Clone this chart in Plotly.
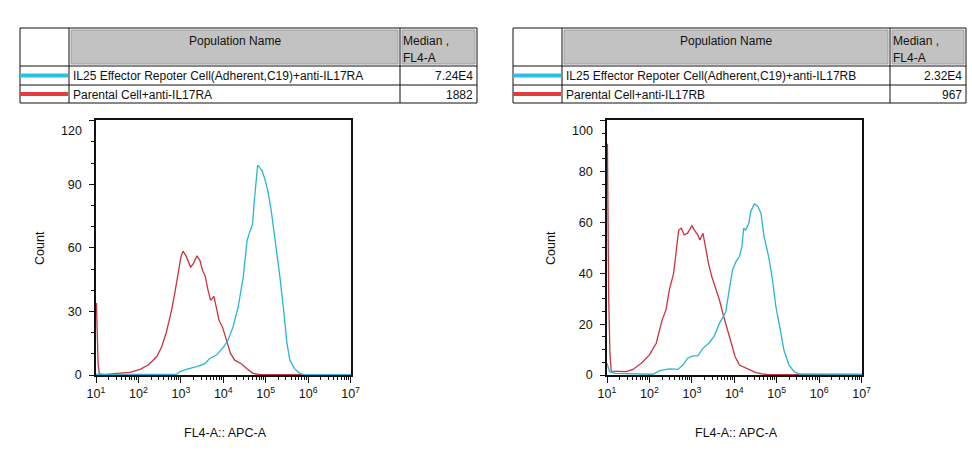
##########==========##########==========##########==========##########==========
## INITIALIZE

import plotly.graph_objects as go

## figure-wide settings
params = dict(
    width = 972, height = 460,
    font = 'Liberation Sans, Arial, sans-serif',
    colors = dict(
        ink = '#111111', cyan = '#29b6d3', red = '#c9343f',
        cyan_key = '#2cc0e2', red_key = '#e23c3c',
        head = '#c2c2c2', head_edge = '#9c9c9c'),
    )

## table contents
population_names_ra = [
    'IL25 Effector Repoter Cell(Adherent,C19)+anti-IL17RA',
    'Parental Cell+anti-IL17RA']
medians_ra = ['7.24E4', '1882']
population_names_rb = [
    'IL25 Effector Repoter Cell(Adherent,C19)+anti-IL17RB',
    'Parental Cell+anti-IL17RB']
medians_rb = ['2.32E4', '967']

## x tick labels (decades of FL4-A)
decade_exponents = [1, 2, 3, 4, 5, 6, 7]
decade_labels = ['10<sup>%d</sup>' % i for i in decade_exponents]

## histogram data, FL4-A given as log10 of intensity
ra_cell_log = [1.0, 2.9, 2.98, 3.13, 3.37, 3.56, 3.68, 3.84, 4.0, 4.11, 4.23, 4.35, 4.47,
               4.56, 4.62, 4.69, 4.73, 4.78, 4.81, 4.86, 4.92, 4.98, 5.05, 5.13, 5.24,
               5.33, 5.42, 5.5, 5.57, 5.68, 5.8, 5.9, 7.0]
ra_cell_count = [0.3, 0.3, 1.6, 2.7, 3.9, 5.2, 7.8, 9.4, 13, 16.4, 22.7, 32, 46.2,
                 63.4, 67.3, 71.2, 82, 94.7, 99, 97.8, 96.2, 92.3, 86.9, 77.5, 61.8,
                 47, 31, 15, 7, 3, 0.8, 0.2, 0.2]
ra_parental_log = [1.01, 1.03, 1.05, 1.08, 1.2, 1.49, 1.8, 2.04, 2.23, 2.43, 2.55, 2.66,
                   2.78, 2.86, 2.94, 3.0, 3.05, 3.12, 3.23, 3.29, 3.38, 3.45, 3.51, 3.57,
                   3.64, 3.7, 3.78, 3.84, 3.9, 3.98, 4.07, 4.17, 4.27, 4.43, 4.55, 4.7,
                   4.86, 7.0]
ra_parental_count = [34, 22, 5, 0.5, 0.2, 0.8, 1.2, 2.7, 4.7, 8.6, 13.3, 20.3,
                     30.5, 39, 47.7, 55.5, 58.4, 56.3, 50.9, 52.4, 56.2, 54, 49.3, 47,
                     40, 35.2, 37.1, 32, 25.8, 22.7, 16.4, 10.2, 7, 5.2, 3.1, 0.8,
                     0.2, 0.2]

rb_cell_log = [1.0, 1.06, 1.2, 2.08, 2.24, 2.47, 2.67, 2.79, 2.9, 3.02, 3.14, 3.26, 3.41,
               3.53, 3.65, 3.73, 3.8, 3.88, 3.96, 4.04, 4.12, 4.18, 4.22, 4.27, 4.34,
               4.39, 4.47, 4.55, 4.63, 4.7, 4.81, 4.9, 4.98, 5.07, 5.17, 5.29, 5.41,
               5.53, 7.0]
rb_cell_count = [4.6, 1.3, 0.6, 0.3, 1.7, 2.4, 2.2, 3.9, 6.6, 7.5, 7.5, 10.5, 12.7,
                 15.4, 20.3, 23, 24.9, 33.5, 41.3, 44.6, 46.6, 50.5, 57.7, 57, 59.7,
                 64.3, 67.3, 66.5, 63.6, 54.5, 46.6, 37.4, 26.9, 19, 9.8, 3.9, 1.3,
                 0.4, 0.3]
rb_parental_log = [1.01, 1.02, 1.04, 1.07, 1.1, 1.45, 1.61, 1.81, 2.0, 2.16, 2.3, 2.39,
                   2.47, 2.57, 2.63, 2.69, 2.75, 2.82, 2.9, 3.0, 3.06, 3.14, 3.19, 3.26,
                   3.32, 3.39, 3.47, 3.57, 3.65, 3.73, 3.82, 3.92, 4.02, 4.12, 4.23,
                   4.35, 4.51, 4.66, 4.8, 7.0]
rb_parental_count = [91, 58, 30, 8, 1.5, 1.3, 2.2, 4.6, 7.9, 12.5, 21.7, 25.6,
                     33.5, 40, 49.2, 57, 57.7, 55.1, 55.8, 58.7, 57, 55.1, 53.1, 55.8,
                     50.5, 44, 38.7, 33.5, 29.5, 24.3, 19, 12.5, 7.2, 3.9, 3,
                     2.2, 0.9, 0.4, 0.1, 0.1]


##########==========##########==========##########==========##########==========
## COMPONENT FUNCTIONS

def px_x(p):
    """ pixel column -> paper x """
    return p / params['width']


def px_y(p):
    """ pixel row -> paper y """
    return 1 - p / params['height']


def make_axes(fig, n, x0, y_max, y_step, y_minor):
    """ one square histogram frame, x0 = left pixel of the frame """
    suffix = '' if n == 1 else str(n)
    ink = params['colors']['ink']
    minor_x = [k * 10 ** e for e in decade_exponents[:-1] for k in range(2, 10)]
    y_vals = list(range(0, y_max + 1, y_step))
    fig.update_layout({
        'xaxis' + suffix: dict(
            domain = [px_x(x0), px_x(x0 + 255)], anchor = 'y' + suffix,
            type = 'log', range = [1, 7.01], automargin = False,
            tickmode = 'array', tickvals = [10 ** e for e in decade_exponents],
            ticktext = decade_labels,
            ticks = 'outside', ticklen = 6, tickwidth = 1, tickcolor = ink,
            minor = dict(tickvals = minor_x, ticks = 'outside', ticklen = 3,
                         tickcolor = ink, showgrid = False),
            showline = True, mirror = True, linecolor = ink, linewidth = 1.5,
            showgrid = False, zeroline = False,
            tickfont = dict(size = 12.5, color = ink)),
        'yaxis' + suffix: dict(
            domain = [px_y(375), px_y(120)], anchor = 'x' + suffix,
            range = [0, y_max + 0.3], automargin = False,
            tickmode = 'array', tickvals = y_vals,
            ticktext = [str(v) for v in y_vals[:-1]] + [''],
            ticks = 'outside', ticklen = 5, tickwidth = 1, tickcolor = ink,
            ticklabelstandoff = 5,
            minor = dict(dtick = y_minor, ticks = 'outside', ticklen = 3,
                         tickcolor = ink, showgrid = False),
            showline = True, mirror = True, linecolor = ink, linewidth = 1.5,
            showgrid = False, zeroline = False,
            tickfont = dict(size = 12.5, color = ink)),
        })
    ## top label sits a little lower in the original
    notes = [
        dict(x = px_x(x0 - 12), y = y_max, xref = 'paper', yref = 'y' + suffix,
             text = str(y_max), showarrow = False, xanchor = 'right', yanchor = 'middle',
             yshift = -10, font = dict(size = 12.5, color = ink)),
        dict(x = px_x(x0 - 56), y = px_y(248), xref = 'paper', yref = 'paper',
             text = 'Count', textangle = -90, showarrow = False,
             xanchor = 'center', yanchor = 'middle',
             font = dict(size = 12.5, color = ink)),
        dict(x = px_x(x0 + 129), y = px_y(433), xref = 'paper', yref = 'paper',
             text = 'FL4-A:: APC-A', showarrow = False,
             xanchor = 'center', yanchor = 'middle',
             font = dict(size = 12.5, color = ink)),
        ]
    return notes


def add_histograms(fig, n, cell_log, cell_count, parental_log, parental_count):
    """ parental drawn first, reporter cells on top """
    suffix = '' if n == 1 else str(n)
    for xs, ys, col in [(parental_log, parental_count, 'red'),
                        (cell_log, cell_count, 'cyan')]:
        fig.add_trace(go.Scatter(
            x = [10 ** v for v in xs], y = ys,
            xaxis = 'x' + suffix, yaxis = 'y' + suffix,
            mode = 'lines', line = dict(color = params['colors'][col], width = 1.3),
            hoverinfo = 'skip', showlegend = False))


def draw_table(x0, c1, c2, x1, names, medians):
    """ population table above each histogram """
    c = params['colors']
    top, r1, r2, bot = 28, 66, 85, 103
    shapes, notes = [], []
    def box(a, b, d, e, fill = 'rgba(0,0,0,0)', edge = c['ink'], w = 1):
        shapes.append(dict(type = 'rect', xref = 'paper', yref = 'paper',
                           x0 = px_x(a), x1 = px_x(b), y0 = px_y(e), y1 = px_y(d),
                           fillcolor = fill, line = dict(color = edge, width = w)))
    def hline(a, b, y, col, w):
        shapes.append(dict(type = 'line', xref = 'paper', yref = 'paper',
                           x0 = px_x(a), x1 = px_x(b), y0 = px_y(y), y1 = px_y(y),
                           line = dict(color = col, width = w)))
    def vline(x, a, b):
        shapes.append(dict(type = 'line', xref = 'paper', yref = 'paper',
                           x0 = px_x(x), x1 = px_x(x), y0 = px_y(a), y1 = px_y(b),
                           line = dict(color = c['ink'], width = 1)))
    def text(x, y, s, anchor):
        notes.append(dict(x = px_x(x), y = px_y(y), xref = 'paper', yref = 'paper',
                          text = s, showarrow = False, xanchor = anchor, yanchor = 'middle',
                          font = dict(size = 12, color = c['ink'])))

    ## grey header cells
    box(c1 + 2, c2 - 2, top + 2, r1 - 2, fill = c['head'], edge = c['head_edge'])
    box(c2 + 2, x1 - 2, top + 2, r1 - 2, fill = c['head'], edge = c['head_edge'])
    ## grid
    box(x0, x1, top, bot)
    hline(x0, x1, r1, c['ink'], 1)
    hline(x0, x1, r2, c['ink'], 1)
    vline(c1, top, bot)
    vline(c2, top, bot)
    ## colour keys
    hline(x0, c1 - 1, (r1 + r2) / 2, c['cyan_key'], 4)
    hline(x0, c1 - 1, (r2 + bot) / 2, c['red_key'], 4)
    ## text
    text((c1 + c2) / 2, 41, 'Population Name', 'center')
    text(c2 + 1, 41, 'Median ,', 'left')
    text(c2 + 1, 58, 'FL4-A', 'left')
    text(c1 + 2, 76, names[0], 'left')
    text(c1 + 2, 95, names[1], 'left')
    text(x1 - 2, 76, medians[0], 'right')
    text(x1 - 2, 95, medians[1], 'right')
    return shapes, notes


##########==========##########==========##########==========##########==========
## TOP-LEVEL FUNCTIONS

def draw_panels():
    fig = go.Figure()
    fig.update_layout(
        template = 'none',
        width = params['width'], height = params['height'],
        margin = dict(l = 0, r = 0, t = 0, b = 0, pad = 0),
        paper_bgcolor = 'white', plot_bgcolor = 'white',
        showlegend = False,
        font = dict(family = params['font'], size = 12, color = params['colors']['ink']),
        )

    add_histograms(fig, 1, ra_cell_log, ra_cell_count, ra_parental_log, ra_parental_count)
    add_histograms(fig, 2, rb_cell_log, rb_cell_count, rb_parental_log, rb_parental_count)

    notes = make_axes(fig, 1, 96, 120, 30, 10)
    notes += make_axes(fig, 2, 607, 100, 20, 5)

    shapes_a, notes_a = draw_table(20, 69, 400, 477, population_names_ra, medians_ra)
    shapes_b, notes_b = draw_table(513, 562, 890, 966, population_names_rb, medians_rb)

    fig.update_layout(shapes = shapes_a + shapes_b, annotations = notes + notes_a + notes_b)
    ## page margin off so the figure sits at the window corner
    fig.write_html('out.html', config = dict(displayModeBar = False),
                   post_script = "document.body.style.margin = '0';")


if __name__ == '__main__':
    draw_panels()
